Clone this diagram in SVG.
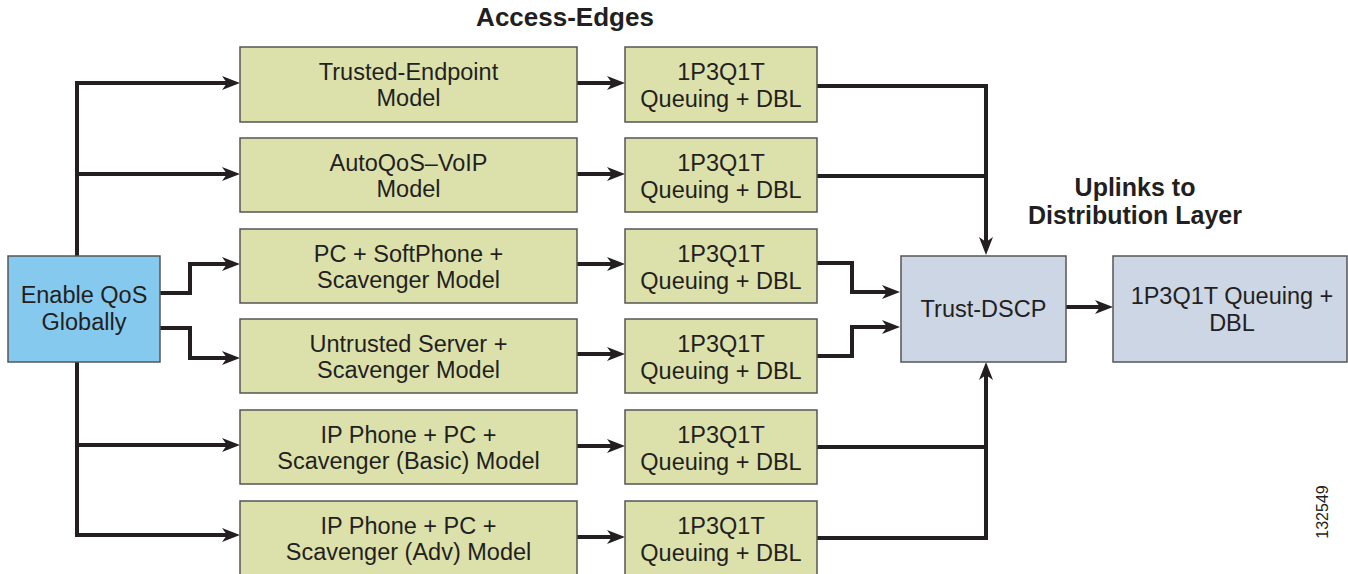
<svg xmlns="http://www.w3.org/2000/svg" width="1348" height="574" viewBox="0 0 1348 574">
<defs>
<style>
.box{stroke:#555555;stroke-width:1.5}
.green{fill:#DCE1AC}
.blue{fill:#85CAEE}
.grey{fill:#CDD6E4}
.t{font-family:"Liberation Sans",Arial,sans-serif;font-size:23.5px;fill:#231F20;text-anchor:middle}
.h{font-family:"Liberation Sans",Arial,sans-serif;font-size:25px;font-weight:bold;fill:#231F20;text-anchor:middle}
.c{fill:none;stroke:#231F20;stroke-width:4;stroke-linejoin:miter}
</style>
<marker id="ah" markerUnits="userSpaceOnUse" markerWidth="20" markerHeight="16" refX="6" refY="7" orient="auto">
<path d="M0,0 L18,7 L0,14 L5,7 Z" fill="#231F20"/>
</marker>
</defs>
<rect width="1348" height="574" fill="#ffffff"/>

<text class="h" x="565" y="26" style="font-size:26px">Access-Edges</text>
<text class="h" x="1135" y="196">Uplinks to</text>
<text class="h" x="1135" y="224">Distribution Layer</text>

<g id="connectors">
<path class="c" marker-end="url(#ah)" d="M77,256 V83 H228"/>
<path class="c" marker-end="url(#ah)" d="M77,174 H228"/>
<path class="c" marker-end="url(#ah)" d="M160,293 H190 V264 H228"/>
<path class="c" marker-end="url(#ah)" d="M160,328 H190 V358 H228"/>
<path class="c" marker-end="url(#ah)" d="M77,362 V535 H228"/>
<path class="c" marker-end="url(#ah)" d="M77,445 H228"/>

<path class="c" marker-end="url(#ah)" d="M577,83 H613"/>
<path class="c" marker-end="url(#ah)" d="M577,174 H613"/>
<path class="c" marker-end="url(#ah)" d="M577,264 H613"/>
<path class="c" marker-end="url(#ah)" d="M577,354 H613"/>
<path class="c" marker-end="url(#ah)" d="M577,446 H613"/>
<path class="c" marker-end="url(#ah)" d="M577,537 H613"/>

<path class="c" marker-end="url(#ah)" d="M817,86 H986 V243"/>
<path class="c" d="M817,176 H986"/>
<path class="c" marker-end="url(#ah)" d="M817,263 H852 V292 H888"/>
<path class="c" marker-end="url(#ah)" d="M817,356 H852 V327 H888"/>
<path class="c" marker-end="url(#ah)" d="M817,538 H986 V374"/>
<path class="c" d="M817,447 H986"/>

<path class="c" marker-end="url(#ah)" d="M1066,307 H1101"/>
</g>

<g id="enable-qos">
<rect class="box blue" x="8" y="256" width="152" height="106"/>
<text class="t" x="84" y="303">Enable QoS</text>
<text class="t" x="84" y="330">Globally</text>
</g>

<g id="model-trusted-endpoint">
<rect class="box green" x="240" y="47" width="337" height="75"/>
<text class="t" x="408.5" y="80">Trusted-Endpoint</text>
<text class="t" x="408.5" y="106">Model</text>
</g>
<g id="model-autoqos">
<rect class="box green" x="240" y="138" width="337" height="74"/>
<text class="t" x="408.5" y="171">AutoQoS–VoIP</text>
<text class="t" x="408.5" y="197">Model</text>
</g>
<g id="model-pc-softphone">
<rect class="box green" x="240" y="229" width="337" height="74"/>
<text class="t" x="408.5" y="262">PC + SoftPhone +</text>
<text class="t" x="408.5" y="288">Scavenger Model</text>
</g>
<g id="model-untrusted-server">
<rect class="box green" x="240" y="319" width="337" height="74"/>
<text class="t" x="408.5" y="352">Untrusted Server +</text>
<text class="t" x="408.5" y="378">Scavenger Model</text>
</g>
<g id="model-ipphone-basic">
<rect class="box green" x="240" y="410" width="337" height="74"/>
<text class="t" x="408.5" y="443">IP Phone + PC +</text>
<text class="t" x="408.5" y="469">Scavenger (Basic) Model</text>
</g>
<g id="model-ipphone-adv">
<rect class="box green" x="240" y="501" width="337" height="75"/>
<text class="t" x="408.5" y="534">IP Phone + PC +</text>
<text class="t" x="408.5" y="560">Scavenger (Adv) Model</text>
</g>

<g id="queue-1">
<rect class="box green" x="625" y="47" width="192" height="75"/>
<text class="t" x="721" y="80">1P3Q1T</text>
<text class="t" x="721" y="107">Queuing + DBL</text>
</g>
<g id="queue-2">
<rect class="box green" x="625" y="138" width="192" height="74"/>
<text class="t" x="721" y="171">1P3Q1T</text>
<text class="t" x="721" y="198">Queuing + DBL</text>
</g>
<g id="queue-3">
<rect class="box green" x="625" y="229" width="192" height="74"/>
<text class="t" x="721" y="262">1P3Q1T</text>
<text class="t" x="721" y="289">Queuing + DBL</text>
</g>
<g id="queue-4">
<rect class="box green" x="625" y="319" width="192" height="74"/>
<text class="t" x="721" y="352">1P3Q1T</text>
<text class="t" x="721" y="379">Queuing + DBL</text>
</g>
<g id="queue-5">
<rect class="box green" x="625" y="410" width="192" height="74"/>
<text class="t" x="721" y="443">1P3Q1T</text>
<text class="t" x="721" y="470">Queuing + DBL</text>
</g>
<g id="queue-6">
<rect class="box green" x="625" y="501" width="192" height="75"/>
<text class="t" x="721" y="534">1P3Q1T</text>
<text class="t" x="721" y="561">Queuing + DBL</text>
</g>

<g id="trust-dscp">
<rect class="box grey" x="901" y="256" width="165" height="106"/>
<text class="t" x="983.5" y="317">Trust-DSCP</text>
</g>
<g id="uplink-queue">
<rect class="box grey" x="1113" y="256" width="234" height="106"/>
<text class="t" x="1232" y="304">1P3Q1T Queuing +</text>
<text class="t" x="1232" y="331">DBL</text>
</g>

<text x="0" y="0" transform="translate(1328,512) rotate(-90)" style="font-family:'Liberation Sans',Arial,sans-serif;font-size:16px;fill:#231F20;text-anchor:middle">132549</text>
</svg>
